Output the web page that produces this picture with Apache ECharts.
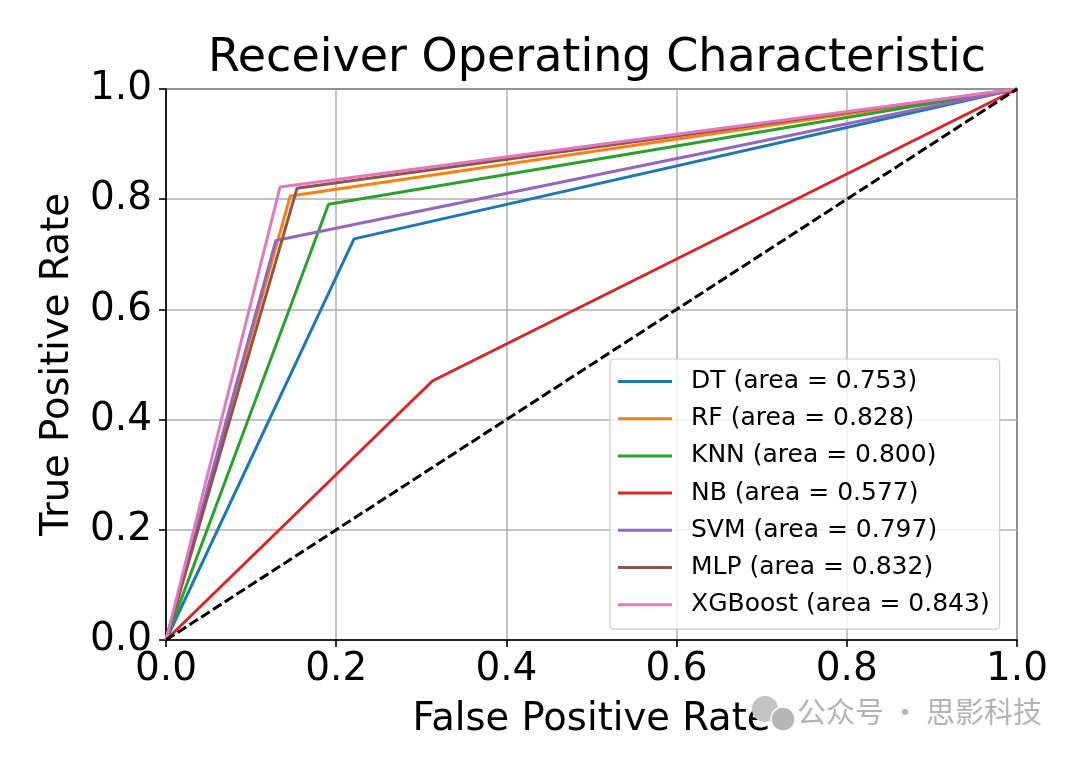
<!DOCTYPE html>
<html><head><meta charset="utf-8">
<script src="https://cdn.jsdelivr.net/npm/echarts@6/dist/echarts.min.js"></script>
<style>html,body{margin:0;padding:0;background:#fff}#c{width:1080px;height:758px}</style>
</head><body><div id="c"></div>
<script>
const models = ['DT','RF','KNN','NB','SVM','MLP','XGBoost'];
const aucs = ['0.753','0.828','0.800','0.577','0.797','0.832','0.843'];
const elbowFpr = [0.221, 0.146, 0.191, 0.313, 0.129, 0.154, 0.134];
const elbowTpr = [0.728, 0.806, 0.791, 0.470, 0.725, 0.820, 0.822];
const colors = ['#1f77b4','#ff7f0e','#2ca02c','#d62728','#9467bd','#8c564b','#e377c2'];
const ticks = [0, 0.2, 0.4, 0.6, 0.8, 1.0];

const F = 'DejaVu Sans';
const chart = echarts.init(document.getElementById('c'));
const series = models.map((m, i) => ({
  name: m + ' (area = ' + aucs[i] + ')',
  type: 'line', symbol: 'none', animation: false,
  lineStyle: {color: colors[i], width: 3},
  itemStyle: {color: colors[i]},
  data: [[0,0],[elbowFpr[i], elbowTpr[i]],[1,1]]
}));
series.push({
  name: 'chance', type: 'line', symbol: 'none', animation: false,
  lineStyle: {color: '#000', width: 3, type: [10,4]},
  data: [[0,0],[1,1]]
});
const axisCommon = {
  type: 'value', min: 0, max: 1, interval: 0.2,
  axisLine: {show: true, lineStyle: {color: '#000', width: 1.6}},
  axisTick: {show: true, inside: false, length: 7, lineStyle: {color: '#000', width: 1.6}},
  splitLine: {show: true, lineStyle: {color: '#b0b0b0', width: 1.5}},
  axisLabel: {color: '#000', fontFamily: F, fontSize: 39, formatter: v => v.toFixed(1)},
  nameLocation: 'middle',
  nameTextStyle: {color: '#000', fontFamily: F, fontSize: 38.5}
};
chart.setOption({
  backgroundColor: '#fff',
  animation: false,
  title: {text: 'Receiver Operating Characteristic', left: 592, textAlign: 'center', top: 31,
    textStyle: {fontFamily: F, fontSize: 46, fontWeight: 'normal', color: '#000'}},
  grid: {left: 166, right: 63, top: 89, bottom: 118, show: true, borderColor: '#000', borderWidth: 1.6, containLabel: false},
  xAxis: Object.assign({}, axisCommon, {name: 'False Positive Rate', nameGap: 60,
    axisLabel: Object.assign({}, axisCommon.axisLabel, {margin: 10})}),
  yAxis: Object.assign({}, axisCommon, {name: 'True Positive Rate', nameGap: 89,
    axisLabel: Object.assign({}, axisCommon.axisLabel, {margin: 14})}),
  legend: {
    data: models.map((m, i) => m + ' (area = ' + aucs[i] + ')'),
    orient: 'vertical', left: 610, top: 359,
    icon: 'rect', itemWidth: 54, itemHeight: 3, itemGap: 12.2,
    padding: [10, 10, 12, 8],
    backgroundColor: 'rgba(255,255,255,0.8)', borderColor: '#cccccc', borderWidth: 1.2, borderRadius: 4,
    textStyle: {fontFamily: F, fontSize: 25, color: '#000', lineHeight: 25, padding: [0,0,0,14]}
  },
  graphic: [
    {type: 'circle', shape: {cx: 765, cy: 709, r: 13}, style: {fill: '#c4c4c4'}, z: 100},
    {type: 'circle', shape: {cx: 783, cy: 719, r: 12}, style: {fill: '#b6b6b6', stroke: '#fff', lineWidth: 1.5}, z: 101},
    {type: 'text', left: 797, top: 697, z: 100,
      style: {text: '公众号 · 思影科技', fill: '#b3b3b3', font: '29px "Noto Sans CJK SC"'}}
  ],
  series: series
});
</script></body></html>
